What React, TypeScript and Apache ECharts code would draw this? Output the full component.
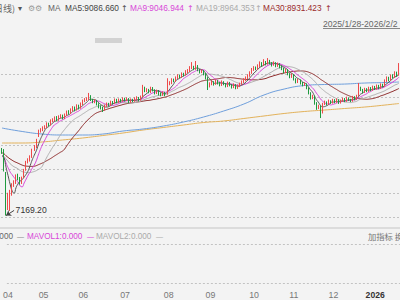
import React, { useEffect, useRef } from 'react';
import * as echarts from 'echarts';

// HK trading-day calendar for the visible span
const holidays = ['2025-04-04', '2025-04-18', '2025-04-21', '2025-05-01', '2025-05-05', '2025-07-01',
  '2025-10-01', '2025-10-07', '2025-10-29', '2025-12-25', '2025-12-26', '2026-01-01'];
const firstDate = '2025-04-02';
const lastDate = '2026-01-20';

const opens = [
  8063, 8063, 7722, 7330, 7410, 7470, 7590, 7620, 7708, 7681,
  7613, 7690, 7790, 7899, 7926, 7967, 8063, 8103, 8253, 8321,
  8335, 8362, 8376, 8417, 8403, 8458, 8471, 8498, 8471, 8512,
  8526, 8498, 8539, 8580, 8566, 8607, 8635, 8607, 8662, 8635,
  8689, 8730, 8744, 8757, 8798, 8744, 8716, 8730, 8689, 8648,
  8635, 8607, 8662, 8689, 8675, 8716, 8703, 8744, 8716, 8744,
  8730, 8757, 8744, 8757, 8716, 8744, 8730, 8757, 8771, 8744,
  8790, 8907, 8866, 8880, 8852, 8907, 8880, 8839, 8866, 8825,
  8812, 8839, 8820, 8961, 8975, 9016, 9002, 9043, 9070, 9057,
  9098, 9084, 9125, 9138, 9179, 9193, 9166, 9207, 9152, 9125,
  9138, 9098, 9043, 8934, 8961, 8989, 8961, 9002, 8975, 8948,
  8989, 8961, 8934, 8975, 8948, 8921, 8948, 8907, 8934, 8961,
  8989, 9016, 9043, 9070, 9111, 9152, 9179, 9166, 9207, 9247,
  9220, 9261, 9234, 9274, 9247, 9220, 9247, 9207, 9234, 9193,
  9166, 9125, 9152, 9098, 9057, 9084, 9030, 8989, 9016, 8975,
  8948, 8961, 8907, 8839, 8771, 8798, 8703, 8635, 8662, 8570,
  8689, 8716, 8689, 8730, 8703, 8744, 8716, 8744, 8703, 8730,
  8757, 8730, 8771, 8744, 8730, 8784, 8757, 8800, 8907, 8880,
  8852, 8893, 8866, 8907, 8880, 8921, 8893, 8934, 8907, 8948,
  8934, 9002, 9043, 9016, 9070, 9057, 9111, 9084,
];

const closes = [
  8035, 7790, 7313, 7422, 7436, 7586, 7613, 7708, 7681, 7613,
  7681, 7790, 7899, 7926, 7967, 8063, 8103, 8199, 8321, 8335,
  8362, 8376, 8417, 8403, 8458, 8471, 8498, 8471, 8512, 8526,
  8498, 8539, 8580, 8566, 8607, 8635, 8607, 8662, 8635, 8689,
  8730, 8744, 8757, 8798, 8744, 8716, 8730, 8689, 8648, 8635,
  8607, 8662, 8689, 8675, 8716, 8703, 8744, 8716, 8744, 8730,
  8757, 8744, 8757, 8716, 8744, 8730, 8757, 8771, 8744, 8784,
  8907, 8866, 8880, 8852, 8907, 8880, 8839, 8866, 8825, 8812,
  8839, 8812, 8961, 8975, 9016, 9002, 9043, 9070, 9057, 9098,
  9084, 9125, 9138, 9179, 9193, 9166, 9207, 9152, 9125, 9138,
  9098, 9043, 8934, 8961, 8989, 8961, 9002, 8975, 8948, 8989,
  8961, 8934, 8975, 8948, 8921, 8948, 8907, 8934, 8961, 8989,
  9016, 9043, 9070, 9111, 9152, 9179, 9166, 9207, 9247, 9220,
  9261, 9234, 9274, 9247, 9220, 9247, 9207, 9234, 9193, 9166,
  9125, 9152, 9098, 9057, 9084, 9030, 8989, 9016, 8975, 8948,
  8961, 8907, 8839, 8771, 8798, 8703, 8635, 8662, 8566, 8689,
  8716, 8689, 8730, 8703, 8744, 8716, 8744, 8703, 8730, 8757,
  8730, 8771, 8744, 8730, 8784, 8757, 8798, 8907, 8880, 8852,
  8893, 8866, 8907, 8880, 8921, 8893, 8934, 8907, 8948, 8934,
  9002, 9043, 9016, 9070, 9057, 9111, 9084, 9179,
];

const highs = [
  8090, 8075, 7763, 7480, 7520, 7610, 7650, 7730, 7740, 7695,
  7700, 7805, 7915, 7950, 7990, 8080, 8130, 8215, 8340, 8360,
  8385, 8400, 8440, 8435, 8480, 8495, 8520, 8525, 8535, 8550,
  8545, 8560, 8600, 8605, 8630, 8660, 8655, 8685, 8680, 8710,
  8750, 8770, 8780, 8840, 8810, 8760, 8755, 8745, 8700, 8670,
  8650, 8680, 8710, 8705, 8735, 8730, 8765, 8760, 8765, 8760,
  8780, 8775, 8780, 8770, 8765, 8760, 8780, 8795, 8785, 8805,
  8950, 8925, 8905, 8895, 8925, 8920, 8890, 8885, 8880, 8845,
  8860, 8855, 9040, 9000, 9040, 9035, 9065, 9095, 9090, 9120,
  9115, 9150, 9165, 9205, 9260, 9210, 9275, 9220, 9165, 9160,
  9150, 9110, 9055, 8985, 9010, 9000, 9025, 9015, 8990, 9010,
  9000, 8975, 8995, 8990, 8960, 8970, 8960, 8955, 8980, 9010,
  9040, 9065, 9095, 9135, 9180, 9205, 9200, 9230, 9270, 9260,
  9300, 9275, 9315, 9290, 9260, 9270, 9260, 9255, 9245, 9210,
  9180, 9170, 9165, 9110, 9105, 9095, 9040, 9035, 9025, 8990,
  8985, 8970, 8915, 8850, 8815, 8805, 8715, 8680, 8670, 8705,
  8735, 8725, 8750, 8740, 8760, 8755, 8765, 8755, 8750, 8775,
  8770, 8790, 8780, 8760, 8800, 8795, 8815, 8975, 8925, 8895,
  8910, 8905, 8925, 8920, 8940, 8935, 8955, 8950, 8970, 8965,
  9025, 9065, 9060, 9090, 9095, 9135, 9130, 9247,
];

const lows = [
  8010, 7770, 7169.2, 7245, 7232, 7440, 7560, 7600, 7650, 7590,
  7600, 7680, 7780, 7880, 7905, 7955, 8050, 8090, 8240, 8300,
  8320, 8345, 8360, 8385, 8395, 8440, 8455, 8455, 8460, 8495,
  8480, 8485, 8525, 8545, 8555, 8590, 8590, 8600, 8615, 8625,
  8675, 8715, 8730, 8745, 8730, 8700, 8700, 8670, 8630, 8615,
  8580, 8600, 8650, 8655, 8665, 8685, 8690, 8700, 8705, 8710,
  8720, 8725, 8730, 8700, 8705, 8715, 8720, 8740, 8725, 8735,
  8780, 8850, 8850, 8835, 8840, 8860, 8820, 8825, 8805, 8795,
  8800, 8795, 8815, 8945, 8960, 8985, 8990, 9030, 9040, 9045,
  9065, 9075, 9110, 9125, 9165, 9150, 9155, 9135, 9105, 9110,
  9080, 9025, 8880, 8915, 8945, 8940, 8950, 8955, 8930, 8935,
  8945, 8915, 8920, 8930, 8900, 8905, 8890, 8895, 8920, 8950,
  8975, 9000, 9030, 9060, 9100, 9140, 9150, 9155, 9195, 9200,
  9210, 9215, 9225, 9230, 9200, 9210, 9190, 9195, 9175, 9150,
  9105, 9110, 9080, 9040, 9045, 9010, 8970, 8975, 8955, 8930,
  8935, 8890, 8820, 8750, 8755, 8680, 8610, 8620, 8498, 8560,
  8675, 8670, 8680, 8690, 8695, 8700, 8705, 8690, 8695, 8720,
  8715, 8720, 8730, 8715, 8720, 8740, 8745, 8795, 8865, 8835,
  8840, 8850, 8855, 8865, 8870, 8880, 8885, 8890, 8895, 8915,
  8925, 8990, 9000, 9005, 9040, 9045, 9065, 9075,
];

// closes of the sessions just before the visible window (feed the moving averages)
const preCloses = [
  8120, 8150, 8090, 8060, 8100, 8130, 8080, 8040, 8010, 8050,
  8070, 8030, 7990, 8020, 8060, 8030, 7980, 7950, 7990, 8010,
  7970, 7940, 7960, 7990, 7950, 7930, 7960, 7990, 8010,
];

// long-term reference lines, read at every 10th session
const refIdx = [0, 10, 20, 30, 40, 50, 60, 70, 80, 90, 100, 110, 120, 130, 140, 150, 160, 170, 180, 190, 197];
const blueVals = [8362, 8315, 8280, 8267, 8267, 8280, 8321, 8349, 8389, 8444, 8512, 8594, 8689, 8812, 8893, 8941, 8955, 8961, 8975, 8982, 8989];
const orangeVals = [8158, 8158, 8172, 8199, 8226, 8260, 8294, 8335, 8369, 8403, 8437, 8458, 8492, 8526, 8560, 8587, 8607, 8628, 8648, 8675, 8696];

const lowPoint = 7169.2;
const headerItems = [
  { text: 'MA5:9086.660', color: '#444444' },
  { text: 'MA9:9046.944', color: '#d846d8' },
  { text: 'MA19:8964.353', color: '#aaaaaa' },
  { text: 'MA30:8931.423', color: '#9a2a2a' },
];
const rangeText = '2025/1/28-2026/2/2';
const volItems = ['VOL:0.000', 'MAVOL1:0.000', 'MAVOL2:0.000'];

function buildDates(): string[] {
  const out: string[] = [];
  const [y0, m0, d0] = firstDate.split('-').map(Number);
  const [y1, m1, d1] = lastDate.split('-').map(Number);
  const d = new Date(Date.UTC(y0, m0 - 1, d0));
  const end = Date.UTC(y1, m1 - 1, d1);
  while (d.getTime() <= end) {
    const wd = d.getUTCDay();
    const s = d.toISOString().slice(0, 10);
    if (wd !== 0 && wd !== 6 && !holidays.includes(s)) out.push(s);
    d.setUTCDate(d.getUTCDate() + 1);
  }
  return out;
}

function movingAverage(n: number): (number | null)[] {
  const all = [...preCloses, ...closes];
  const off = preCloses.length;
  return closes.map((_, i) => {
    const end = off + i;
    const start = end - n + 1;
    if (start < 0) return null;
    let s = 0;
    for (let k = start; k <= end; k++) s += all[k];
    return +(s / n).toFixed(3);
  });
}

const LATIN = '"Liberation Sans", Arial, "Noto Sans CJK SC", sans-serif';
const CJK = '"Noto Sans CJK SC", "Liberation Sans", sans-serif';
const SYM = '"DejaVu Sans", sans-serif';

export default function App() {
  const ref = useRef<HTMLDivElement>(null);
  useEffect(() => {
    if (!ref.current) return;
    const chart = echarts.init(ref.current, undefined, { renderer: 'svg' });
    const dates = buildDates();
    const firstOfMonth = new Set<number>();
    dates.forEach((d, i) => {
      if (i === 0 || dates[i - 1].slice(0, 7) !== d.slice(0, 7)) firstOfMonth.add(i);
    });
    const candles = dates.map((_, i) => [opens[i], closes[i], lows[i], highs[i]]);
    const blue = refIdx.map((k, j) => [dates[k], blueVals[j]]);
    const orange = refIdx.map((k, j) => [dates[k], orangeVals[j]]);
    const maLine = (name: string, n: number, color: string) => ({
      name, type: 'line', data: movingAverage(n), xAxisIndex: 0, yAxisIndex: 0,
      symbol: 'none', smooth: true, lineStyle: { color, width: 1 }, silent: true, z: 3,
    });
    const txt = (text: string, x: number, y: number, fill: string, o: any = {}) => ({
      type: 'text', x, y, silent: true,
      style: {
        text, fill, fontSize: o.size || 8.3, fontFamily: o.family || LATIN, fontWeight: o.weight || 'normal',
        align: o.align || 'left', verticalAlign: 'middle',
      },
    });
    const headerX = [65, 130, 196, 263];
    const arrowX = [121, 187, 255, 325];
    const graphics: any[] = [
      txt('日线)', 15, 8, '#666', { align: 'right', family: CJK, size: 9 }),
      txt('▾', 18, 8, '#555', { size: 8, family: SYM }),
      txt('⚙', 28, 8, '#999', { size: 8, family: SYM }),
      txt('⚙', 35, 8, '#999', { size: 8, family: SYM }),
      txt('MA', 48, 8, '#666'),
      { type: 'rect', shape: { x: 95, y: 38, width: 27, height: 5 }, style: { fill: '#d2d2d2' }, silent: true },
      txt(rangeText, 323, 24, '#666', { size: 8.6 }),
      { type: 'line', shape: { x1: 323, y1: 28.5, x2: 400, y2: 28.5 }, style: { stroke: '#888', lineWidth: 1 }, silent: true },
      { type: 'rect', shape: { x: 0, y: 227, width: 400, height: 2 }, style: { fill: '#dcdcdc' }, silent: true },
      txt(volItems[0], 13, 236, '#666', { align: 'right', size: 8.2 }),
      txt('—', 17, 236, '#888', { size: 7 }),
      txt(volItems[1], 27, 236, '#d846d8', { size: 8.2 }),
      txt('—', 87, 236, '#d846d8', { size: 7 }),
      txt(volItems[2], 96, 236, '#aaaaaa', { size: 8.2 }),
      txt('—', 156, 236, '#aaaaaa', { size: 7 }),
      txt('加指标 换', 368, 236, '#777', { family: CJK, size: 8.3 }),
    ];
    headerItems.forEach((h, k) => {
      graphics.push(txt(h.text, headerX[k], 8, h.color));
      graphics.push(txt('↑', arrowX[k], 8, h.color, { family: SYM, size: 8 }));
    });

    chart.setOption({
      animation: false,
      backgroundColor: '#f3f3f3',
      textStyle: { fontFamily: LATIN },
      grid: [
        { left: 1, right: 0, top: 50, height: 167 },
        { left: 1, right: 0, top: 244, height: 39 },
      ],
      xAxis: [
        { type: 'category', data: dates, gridIndex: 0, boundaryGap: true,
          axisLine: { show: false }, axisTick: { show: false }, axisLabel: { show: false }, splitLine: { show: false } },
        { type: 'category', data: dates, gridIndex: 1, boundaryGap: true,
          axisLine: { show: false }, axisTick: { show: false }, splitLine: { show: false },
          axisLabel: {
            show: true, margin: 8, fontSize: 8.8, color: '#777', fontFamily: LATIN,
            interval: (i: number) => firstOfMonth.has(i),
            formatter: (v: string) => (v.slice(5, 7) === '01' ? `{y|${v.slice(0, 4)}}` : v.slice(5, 7)),
            rich: { y: { fontSize: 8.6, fontWeight: 'bold', color: '#333', fontFamily: LATIN } },
          } },
      ],
      yAxis: [
        { type: 'value', gridIndex: 0, min: 7150, max: 9425, interval: 325,
          axisLine: { show: false }, axisTick: { show: false }, axisLabel: { show: false },
          splitLine: { show: true, showMaxLine: false, lineStyle: { color: '#c2c2c2', type: [2, 2], width: 1 } } },
        { type: 'value', gridIndex: 1, min: 0, max: 1, interval: 1,
          axisLine: { show: false }, axisTick: { show: false }, axisLabel: { show: false },
          splitLine: { show: true, lineStyle: { color: '#c2c2c2', type: [2, 2], width: 1 } } },
      ],
      series: [
        { name: 'ref-orange', type: 'line', data: orange, smooth: true, symbol: 'none',
          lineStyle: { color: '#e3b25a', width: 1 }, silent: true, z: 2 },
        { name: 'ref-blue', type: 'line', data: blue, smooth: true, symbol: 'none',
          lineStyle: { color: '#6f9fdc', width: 1 }, silent: true, z: 2 },
        {
          name: 'K', type: 'candlestick', data: candles, barWidth: '60%', z: 4,
          itemStyle: { color: '#ee4a4a', color0: '#1f9a3e', borderColor: '#ee4a4a', borderColor0: '#1f9a3e', borderWidth: 1 },
          markLine: {
            silent: true, symbol: ['arrow', 'none'], symbolSize: 5, animation: false,
            lineStyle: { color: '#444', width: 1, type: 'solid' }, label: { show: false },
            data: [[{ coord: [dates[2], lowPoint] }, { coord: [dates[6], 7240] }]],
          },
          markPoint: {
            silent: true, symbol: 'circle', symbolSize: 1, itemStyle: { color: 'rgba(0,0,0,0)' },
            label: { show: true, position: 'right', distance: 1, formatter: lowPoint.toFixed(2), color: '#333', fontSize: 8.6, fontFamily: LATIN },
            data: [{ coord: [dates[6], 7240] }],
          },
        },
        maLine('MA30', 30, '#8e2a2a'),
        maLine('MA19', 19, '#b0b0b0'),
        maLine('MA9', 9, '#d846d8'),
        maLine('MA5', 5, '#555555'),
      ],
      graphic: graphics,
    });
    return () => chart.dispose();
  }, []);
  return <div ref={ref} style={{ position: 'absolute', left: 0, top: 0, width: 400, height: 300 }} />;
}
